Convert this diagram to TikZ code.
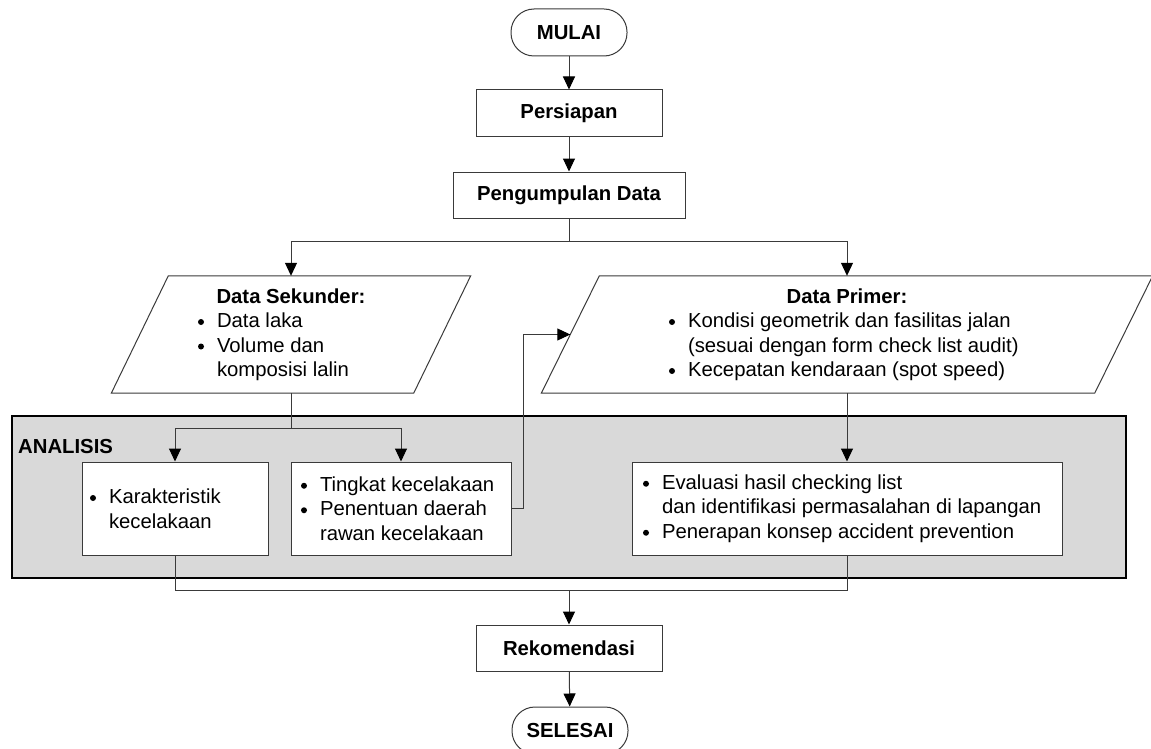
\documentclass[tikz,border=0pt]{standalone}
\usepackage{fontspec}
\setmainfont{Liberation Sans}
\usetikzlibrary{arrows.meta}
\definecolor{gbox}{HTML}{D9D9D9}
\definecolor{ln}{HTML}{3A3A3A}
\newcommand\bl{\makebox[19pt][l]{\tikz[baseline=0pt]\fill[black] (3pt,5.5pt) circle (3pt);}}
\newcommand\ind{\hspace*{19pt}}
\begin{document}
\begin{tikzpicture}[x=1pt,y=-1pt,
  every node/.style={inner sep=0pt, font=\fontsize{20.3}{24.5}\selectfont},
  box/.style={draw=ln, line width=1pt, fill=white, align=left},
  ttl/.style={box, font=\fontsize{20.3}{24.5}\selectfont\bfseries},
  term/.style={ttl, rounded corners=23pt},
  ghost/.style={align=left},
  lnk/.style={draw=ln, line width=1pt},
  arr/.style={lnk, -{Triangle[length=13pt,width=12pt,color=black]}}]
\useasboundingbox (0,0) rectangle (1151,749);

% ANALISIS background
\node[draw=black, line width=1.8pt, fill=gbox, minimum width=1114pt, minimum height=162pt] (an) at (569,497) {};
\node[anchor=base west, font=\fontsize{20.3}{24.5}\selectfont\bfseries] (al) at (18,453) {ANALISIS};

% main nodes
\node[term, minimum width=116pt, minimum height=47pt] (mulai) at (569,32.5) {MULAI};
\node[ttl, minimum width=186pt, minimum height=47pt] (ps) at (569,113.5) {Persiapan};
\node[ttl, minimum width=232pt, minimum height=46pt] (pd) at (569,195) {Pengumpulan Data};

\node[ghost, minimum width=302pt, minimum height=117pt] (ds) at (291,334.5)
  {\makebox[186pt]{\bfseries Data Sekunder:}\\
   \bl Data laka\\
   \bl Volume dan\\
   \ind komposisi lalin};
\draw[lnk] ([xshift=28.5pt]ds.north west) -- ([xshift=28.5pt]ds.north east)
  -- ([xshift=-28.5pt]ds.south east) -- ([xshift=-28.5pt]ds.south west) -- cycle;

\node[ghost, minimum width=553pt, minimum height=117pt] (dp) at (847,334.5)
  {\makebox[356pt]{\bfseries Data Primer:}\\
   \bl Kondisi geometrik dan fasilitas jalan\\
   \ind (sesuai dengan form check list audit)\\
   \bl Kecepatan kendaraan (spot speed)};
\draw[lnk] ([xshift=29pt]dp.north west) -- ([xshift=29pt]dp.north east)
  -- ([xshift=-29pt]dp.south east) -- ([xshift=-29pt]dp.south west) -- cycle;

\node[box, minimum width=186pt, minimum height=93pt] (kr) at (175,508.5)
  {\makebox[170pt][l]{\bl Karakteristik}\\ \ind kecelakaan};
\node[box, minimum width=220pt, minimum height=93pt] (tk) at (401,508.5)
  {\makebox[200pt][l]{\bl Tingkat kecelakaan}\\ \bl Penentuan daerah\\ \ind rawan kecelakaan};
\node[box, minimum width=430pt, minimum height=93pt] (ev) at (847,508.5)
  {\makebox[408pt][l]{\bl Evaluasi hasil checking list}\\
   \ind dan identifikasi permasalahan di lapangan\\
   \bl Penerapan konsep accident prevention};

\node[ttl, minimum width=186pt, minimum height=46pt] (rk) at (569,648) {Rekomendasi};
\node[term, minimum width=116pt, minimum height=47pt] (sl) at (570,730.5) {SELESAI};

% connectors
\draw[arr] (mulai) -- (ps);
\draw[arr] (ps) -- (pd);
\draw[lnk] (pd.south) -- (pd.south |- 0,241) coordinate (b1);
\draw[arr] (b1) -| (ds.north);
\draw[arr] (b1) -| (dp.north);

\draw[lnk] (ds.south) -- (ds.south |- 0,428) coordinate (b2);
\draw[arr] (b2) -| (kr.north);
\draw[arr] (b2) -| (tk.north);
\draw[arr] (dp.south) -- (ev.north);

\draw[arr] (tk.east) -- ++(12,0) |- (dp.west);

\draw[lnk] (kr.south) -- (kr.south |- 0,590) -- (ev.south |- 0,590) -- (ev.south);
\draw[arr] (rk.north |- 0,590) coordinate (b3) -- (rk.north);
\draw[arr] (rk) -- (sl);
\end{tikzpicture}
\end{document}
